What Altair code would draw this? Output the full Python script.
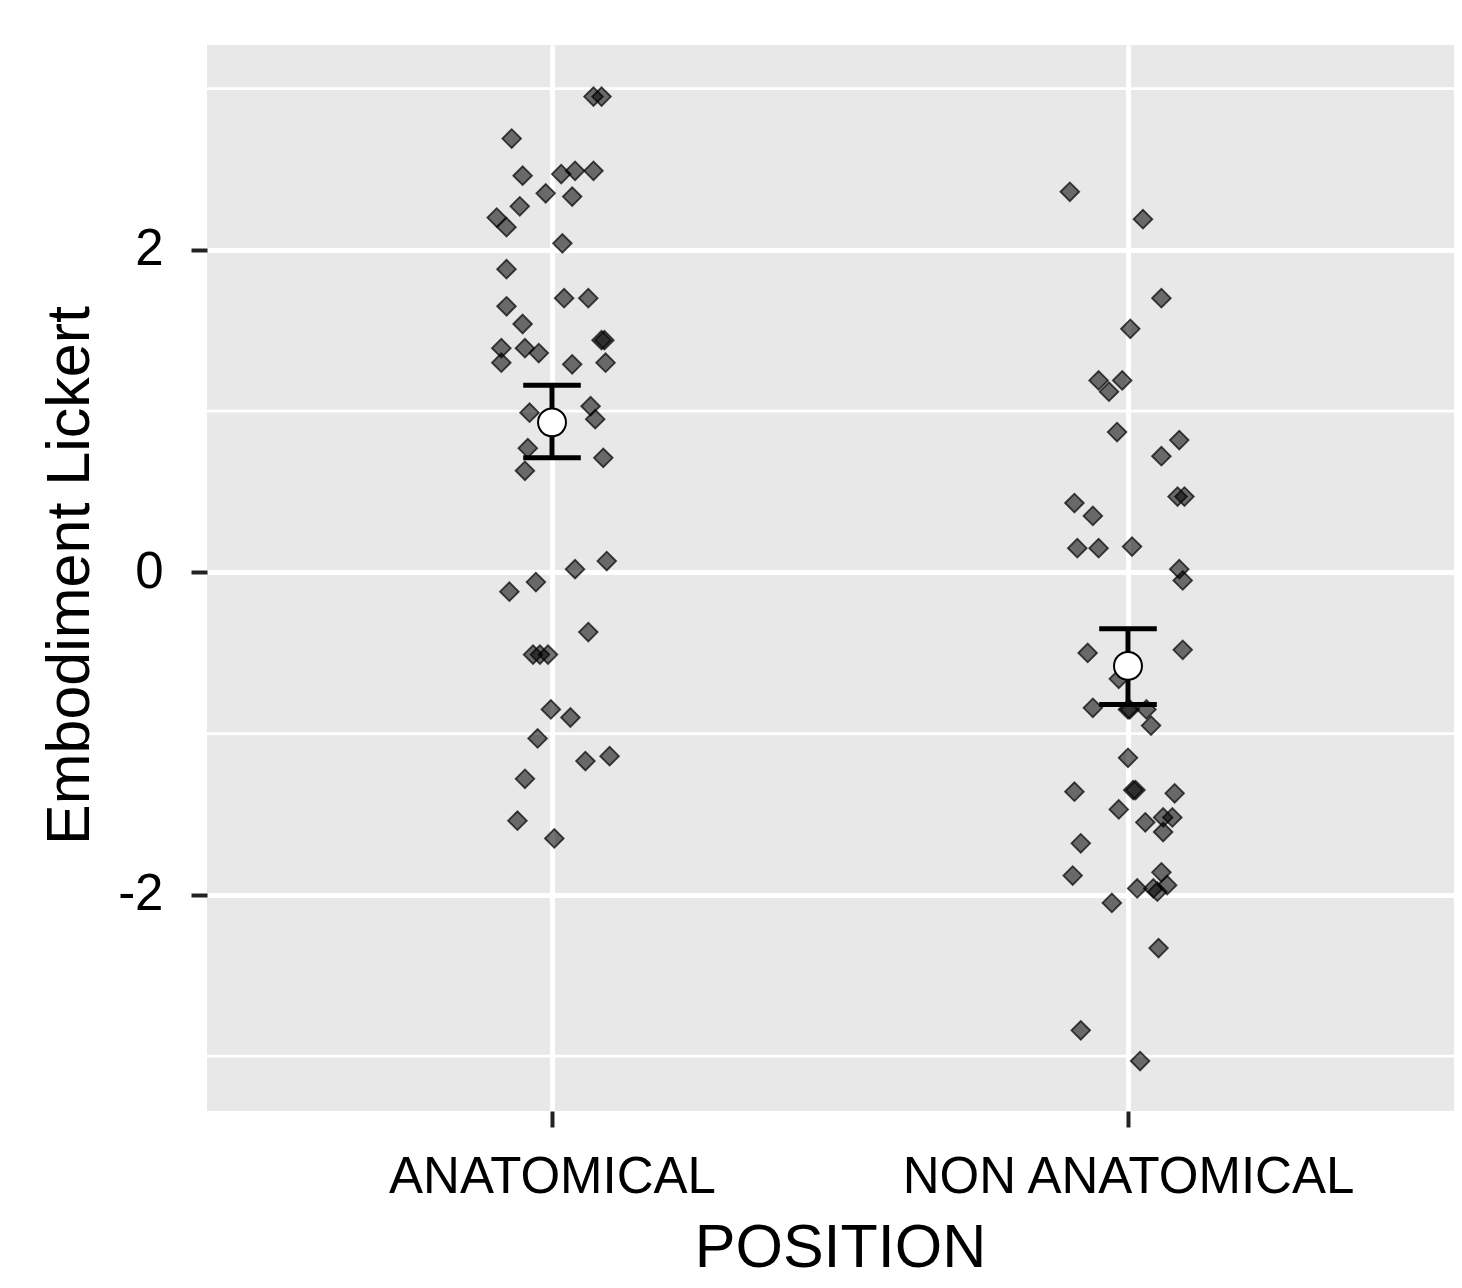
import altair as alt
import pandas as pd

groups = ["ANATOMICAL", "NON ANATOMICAL"]

anat_y = [2.95, 2.95, 2.69, 2.46, 2.47, 2.49, 2.49, 2.27, 2.35, 2.33,
          2.20, 2.14, 2.04, 1.88, 1.65, 1.70, 1.70, 1.54, 1.39, 1.30,
          1.39, 1.36, 1.44, 1.44, 1.29, 1.30, 0.99, 1.03, 0.95, 0.77,
          0.71, 0.63, 0.07, 0.02, -0.06, -0.12, -0.37, -0.51, -0.51, -0.51,
          -0.85, -0.90, -1.03, -1.17, -1.14, -1.28, -1.54, -1.65]
anat_dx = [0.072, 0.086, -0.070, -0.051, 0.016, 0.040, 0.072, -0.056, -0.011, 0.035,
           -0.096, -0.079, 0.018, -0.079, -0.079, 0.021, 0.063, -0.051, -0.088, -0.088,
           -0.047, -0.023, 0.086, 0.091, 0.035, 0.093, -0.039, 0.067, 0.075, -0.042,
           0.089, -0.047, 0.095, 0.040, -0.028, -0.074, 0.063, -0.033, -0.021, -0.007,
           -0.002, 0.032, -0.025, 0.058, 0.100, -0.047, -0.060, 0.004]

non_y = [2.36, 2.19, 1.70, 1.51, 1.19, 1.19, 1.12, 0.87, 0.82, 0.72,
         0.43, 0.35, 0.47, 0.47, 0.15, 0.15, 0.16, 0.02, -0.05, -0.50,
         -0.48, -0.66, -0.84, -0.85, -0.85, -0.85, -0.95, -1.15, -1.36, -1.35,
         -1.35, -1.37, -1.47, -1.55, -1.52, -1.52, -1.61, -1.68, -1.86, -1.88,
         -1.96, -1.96, -1.98, -1.94, -2.05, -2.33, -2.84, -3.03]
non_dx = [-0.101, 0.026, 0.058, 0.004, -0.051, -0.010, -0.033, -0.019, 0.089, 0.058,
          -0.093, -0.061, 0.086, 0.098, -0.088, -0.051, 0.007, 0.089, 0.095, -0.070,
          0.095, -0.016, -0.061, 0.000, 0.003, 0.032, 0.040, 0.000, -0.093, 0.009,
          0.013, 0.081, -0.016, 0.030, 0.061, 0.077, 0.061, -0.082, 0.058, -0.096,
          0.016, 0.044, 0.051, 0.068, -0.028, 0.053, -0.082, 0.021]

means = [0.93, -0.58]
lowers = [0.71, -0.82]
uppers = [1.16, -0.35]

minor_y = [-3, -1, 1, 3]

pts = pd.DataFrame({
    "group": [groups[0]] * len(anat_y) + [groups[1]] * len(non_y),
    "pos": [1 + d for d in anat_dx] + [2 + d for d in non_dx],
    "value": anat_y + non_y,
})
summ = pd.DataFrame({
    "group": groups,
    "pos": [1, 2],
    "mean": means,
    "lower": lowers,
    "upper": uppers,
})
minor = pd.DataFrame({"y": minor_y})

FONT = "Liberation Sans"

xscale = alt.Scale(domain=[0.401, 2.566], nice=False, zero=False)
yscale = alt.Scale(domain=[-3.34, 3.27], nice=False, zero=False)

xaxis = alt.Axis(
    values=[1, 2],
    labelExpr="datum.value == 1 ? 'ANATOMICAL' : 'NON ANATOMICAL'",
    labelLimit=0,
    title="POSITION",
    grid=True,
    titleX=633,
    titleY=155,
    titleBaseline="alphabetic",
    labelPadding=25,
)
yaxis = alt.Axis(
    values=[-2, 0, 2],
    labelExpr="'' + datum.value",
    title="Embodiment Lickert",
    grid=True,
    titleX=-119,
    titleY=530,
    titleAngle=270,
    titleBaseline="alphabetic",
    labelPadding=28,
)

minor_rules = alt.Chart(minor).mark_rule(color="white", strokeWidth=2.8).encode(
    y=alt.Y("y:Q", scale=yscale, axis=yaxis)
)

points = alt.Chart(pts).mark_point(
    shape="diamond", filled=True, fill="black", fillOpacity=0.55,
    stroke="black", strokeOpacity=0.7, strokeWidth=1.8, size=350
).encode(
    x=alt.X("pos:Q", scale=xscale, axis=xaxis),
    y=alt.Y("value:Q", scale=yscale, axis=yaxis),
)

vbar = alt.Chart(summ).mark_rule(color="black", strokeWidth=5).encode(
    x=alt.X("pos:Q", scale=xscale, axis=xaxis),
    y=alt.Y("lower:Q", scale=yscale, axis=yaxis),
    y2="upper:Q",
)

caps_top = alt.Chart(summ).transform_calculate(
    xl="datum.pos - 0.05", xr="datum.pos + 0.05"
).mark_rule(color="black", strokeWidth=5).encode(
    x=alt.X("xl:Q", scale=xscale, axis=xaxis),
    x2="xr:Q",
    y=alt.Y("upper:Q", scale=yscale, axis=yaxis),
)
caps_bot = alt.Chart(summ).transform_calculate(
    xl="datum.pos - 0.05", xr="datum.pos + 0.05"
).mark_rule(color="black", strokeWidth=5).encode(
    x=alt.X("xl:Q", scale=xscale, axis=xaxis),
    x2="xr:Q",
    y=alt.Y("lower:Q", scale=yscale, axis=yaxis),
)

mean_pts = alt.Chart(summ).mark_point(
    shape="circle", filled=True, fill="white", stroke="black",
    strokeWidth=2, size=780, opacity=1
).encode(
    x=alt.X("pos:Q", scale=xscale, axis=xaxis),
    y=alt.Y("mean:Q", scale=yscale, axis=yaxis),
)

chart = alt.layer(minor_rules, points, vbar, caps_top, caps_bot, mean_pts).properties(
    width=1247,
    height=1066,
    autosize=alt.AutoSizeParams(type="none"),
    padding={"left": 199, "top": 37, "right": 0, "bottom": 169},
).configure_view(
    fill="#E8E8E8", strokeWidth=0
).configure_axis(
    domain=False,
    gridColor="white",
    gridWidth=5,
    tickColor="#222222",
    tickSize=16,
    tickWidth=4,
    labelFont=FONT,
    labelFontSize=51,
    labelColor="black",
    titleFont=FONT,
    titleFontSize=61,
    titleFontWeight="normal",
    titleColor="black",
)

chart.save("out.html", embed_options={"renderer": "svg", "actions": False})
